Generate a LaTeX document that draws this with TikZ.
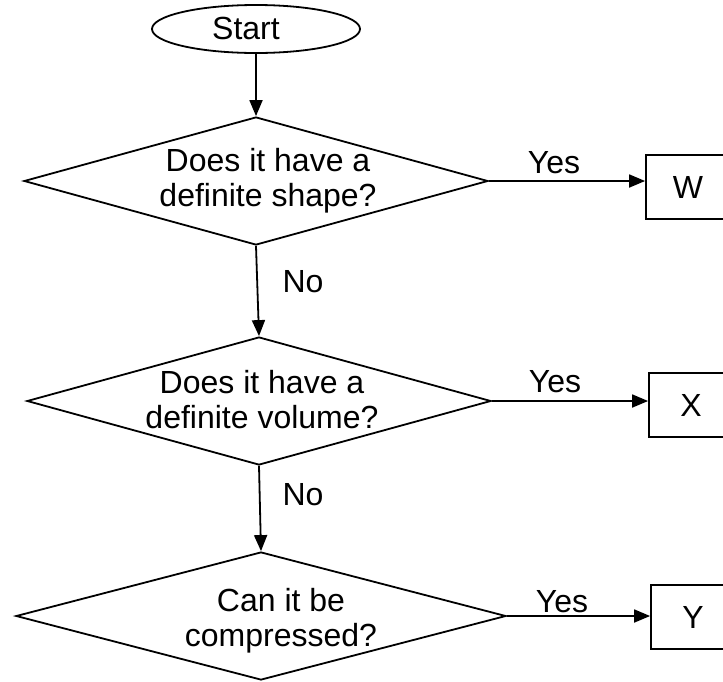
\documentclass[tikz,border=0pt]{standalone}
\usepackage{fontspec}
\setmainfont{Liberation Sans}
\usetikzlibrary{shapes.geometric,arrows.meta}
\begin{document}
\begin{tikzpicture}[x=1pt,y=-1pt,
  line width=1.8pt,
  txt/.style={font=\fontsize{32}{35}\selectfont, inner sep=0pt, align=center},
  decision/.style={draw, diamond, inner sep=0pt, minimum width=#1, minimum height=128pt},
  result/.style={draw, rectangle, minimum width=84pt, minimum height=64pt, inner sep=0pt, font=\fontsize{32}{35}\selectfont},
  startnode/.style={draw, ellipse, minimum width=208pt, minimum height=48pt, inner sep=0pt},
  arr/.style={-{Triangle[length=16pt,width=13pt]}}
]
\useasboundingbox (0,0) rectangle (723,681);
\clip (0,0) rectangle (723,681);

\node[startnode] (start) at (256,29) {};
\node[txt] (starttxt) at (246,28) {Start};

\node[decision=464pt] (d1) at (256,181) {};
\node[txt] (t1) at (268,181) {Does it have a\\definite shape?};

\node[decision=464pt] (d2) at (259,401) {};
\node[txt] (t2) at (262,400) {Does it have a\\definite volume?};

\node[decision=490pt] (d3) at (261,616) {};
\node[txt] (t3) at (281,621) {Can it be\\compressed?};

\node[result] (w) at (688,187) {W};
\node[result] (xx) at (691,405) {X};
\node[result] (yy) at (693,617) {Y};

\draw[arr] (start.south) -- (d1.north);
\draw[arr] (d1.south) -- (d2.north);
\draw[arr] (d2.south) -- (d3.north);

\draw[arr] (d1.east) -- (d1.east -| w.west);
\draw[arr] (d2.east) -- (d2.east -| xx.west);
\draw[arr] (d3.east) -- (d3.east -| yy.west);

\node[txt] (yes1) at (554,163) {Yes};
\node[txt] (yes2) at (555,382) {Yes};
\node[txt] (yes3) at (562,602) {Yes};
\node[txt] (no1) at (303,282) {No};
\node[txt] (no2) at (303,495) {No};
\end{tikzpicture}
\end{document}
